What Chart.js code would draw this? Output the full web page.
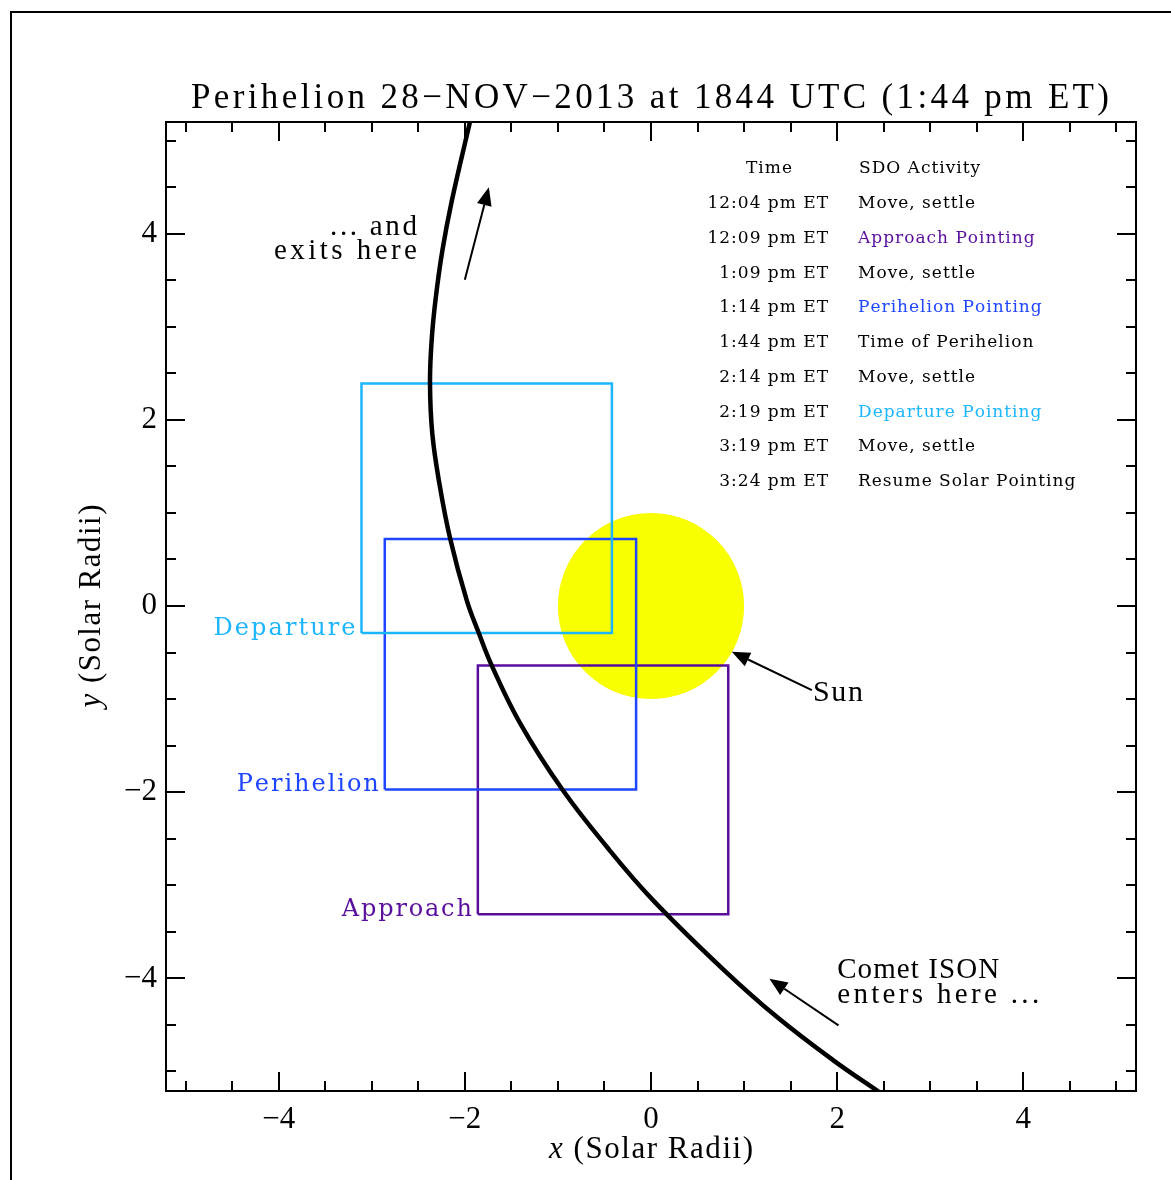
<!DOCTYPE html>
<html>
<head>
<meta charset="utf-8">
<title>Comet ISON perihelion – SDO pointing</title>
<script src="https://cdn.jsdelivr.net/npm/chart.js@4.4.1/dist/chart.umd.min.js"></script>
<style>
  html, body { margin: 0; padding: 0; background: #fff; }
  canvas { display: block; }
</style>
</head>
<body>
<canvas id="chart" width="1171" height="1180"></canvas>
<script>
// ---- data (solar radii, Sun-centred) ----
const titleText = 'Perihelion 28\u2212NOV\u22122013 at 1844 UTC (1:44 pm ET)';

// projected path of Comet ISON, from outbound (top) to inbound (bottom)
const pathX = [-1.945, -2.138, -2.240, -2.315, -2.356, -2.374, -2.350, -2.274, -2.159, -1.980, -1.850, -1.708, -1.407, -0.956, -0.473, 0.021, 0.784, 1.354, 1.955, 2.450];
const pathY = [ 5.200,  4.362,  3.825,  3.288,  2.858,  2.396,  1.859,  1.321,  0.731,  0.064, -0.290, -0.645, -1.257, -1.966, -2.589, -3.159, -3.911, -4.416, -4.878, -5.221];

const sunX = 0;
const sunY = 0;
const sunRadius = 1.0;

// SDO pointing fields of view
const boxNames = ['Departure', 'Perihelion', 'Approach'];
const boxX0 = [-3.11, -2.86, -1.86];
const boxX1 = [-0.42, -0.16,  0.83];
const boxY0 = [-0.29, -1.97, -3.31];
const boxY1 = [ 2.39,  0.72, -0.64];

const xTicks = [-4, -2, 0, 2, 4];
const xTickLabels = ['\u22124', '\u22122', '0', '2', '4'];
const yTicks = [-4, -2, 0, 2, 4];
const yTickLabels = ['\u22124', '\u22122', '0', '2', '4'];

const tableHeader = ['Time', 'SDO Activity'];
const tableTimes = ['12:04 pm ET', '12:09 pm ET', '1:09 pm ET', '1:14 pm ET', '1:44 pm ET',
                    '2:14 pm ET', '2:19 pm ET', '3:19 pm ET', '3:24 pm ET'];
const tableActivities = ['Move, settle', 'Approach Pointing', 'Move, settle', 'Perihelion Pointing',
                         'Time of Perihelion', 'Move, settle', 'Departure Pointing', 'Move, settle',
                         'Resume Solar Pointing'];

// ---- styles ----
const pointingColors = { Departure: '#1CB6FF', Perihelion: '#1E45FF', Approach: '#5A0E9E' };
const SERIF = '"Liberation Serif"';
const SLAB = '"DejaVu Serif"';

function colorForActivity(text) {
  for (const k of Object.keys(pointingColors)) {
    if (text.startsWith(k)) return pointingColors[k];
  }
  return '#000';
}

// draw a sequence of text runs character by character with even spacing;
// if width is given the spacing is chosen so the text spans that width
function drawSpaced(ctx, runs, x, y, align, width, spacingPx) {
  let natural = 0, n = 0;
  for (const r of runs) {
    ctx.font = r.font;
    for (const ch of r.text) { natural += ctx.measureText(ch).width; n++; }
  }
  const sp = (width != null && n > 1) ? (width - natural) / (n - 1) : (spacingPx || 0);
  const total = natural + sp * (n - 1);
  let cx = align === 'right' ? x - total : align === 'center' ? x - total / 2 : x;
  ctx.textAlign = 'left';
  ctx.textBaseline = 'alphabetic';
  for (const r of runs) {
    ctx.font = r.font;
    ctx.fillStyle = r.color || '#000';
    for (const ch of r.text) {
      ctx.fillText(ch, cx, y);
      cx += ctx.measureText(ch).width + sp;
    }
  }
}

function drawArrow(ctx, x0, y0, x1, y1) {
  const ang = Math.atan2(y1 - y0, x1 - x0);
  const headLen = 18, headHalf = 7.5;
  const bx = x1 - headLen * Math.cos(ang), by = y1 - headLen * Math.sin(ang);
  ctx.strokeStyle = '#000';
  ctx.lineWidth = 2;
  ctx.beginPath();
  ctx.moveTo(x0, y0);
  ctx.lineTo(bx, by);
  ctx.stroke();
  ctx.fillStyle = '#000';
  ctx.beginPath();
  ctx.moveTo(x1, y1);
  ctx.lineTo(bx + headHalf * Math.sin(ang), by - headHalf * Math.cos(ang));
  ctx.lineTo(bx - headHalf * Math.sin(ang), by + headHalf * Math.cos(ang));
  ctx.closePath();
  ctx.fill();
}

// frame, inward ticks, annotations, schedule table
const decorPlugin = {
  id: 'decor',
  afterDraw(chart) {
    const ctx = chart.ctx;
    const xs = chart.scales.x, ys = chart.scales.y;
    const a = chart.chartArea;
    const px = v => xs.getPixelForValue(v);
    const py = v => ys.getPixelForValue(v);
    ctx.save();

    // page border
    ctx.strokeStyle = '#000';
    ctx.lineWidth = 2;
    ctx.beginPath();
    ctx.moveTo(11, chart.height);
    ctx.lineTo(11, 12);
    ctx.lineTo(chart.width, 12);
    ctx.stroke();

    // plot frame
    ctx.lineWidth = 2;
    ctx.strokeRect(a.left, a.top, a.right - a.left, a.bottom - a.top);

    // ticks every 0.5, major every 2, pointing inward on all four sides
    ctx.lineWidth = 2;
    ctx.beginPath();
    for (let k = -10; k <= 10; k++) {
      const v = k / 2;
      const len = (k % 4 === 0) ? 19 : 10;
      const X = Math.round(px(v)), Y = Math.round(py(v));
      ctx.moveTo(X, a.bottom); ctx.lineTo(X, a.bottom - len);
      ctx.moveTo(X, a.top);    ctx.lineTo(X, a.top + len);
      ctx.moveTo(a.left, Y);   ctx.lineTo(a.left + len, Y);
      ctx.moveTo(a.right, Y);  ctx.lineTo(a.right - len, Y);
    }
    ctx.stroke();

    // title
    drawSpaced(ctx, [{ text: titleText, font: `35px ${SERIF}` }], 650, 108, 'center', 918);

    // axis titles
    drawSpaced(ctx, [
      { text: 'x', font: `italic 31px ${SERIF}` },
      { text: ' (Solar Radii)', font: `31px ${SERIF}` }
    ], (a.left + a.right) / 2, 1158, 'center', 204);
    ctx.save();
    ctx.translate(100, py(0));
    ctx.rotate(-Math.PI / 2);
    drawSpaced(ctx, [
      { text: 'y', font: `italic 31px ${SERIF}` },
      { text: ' (Solar Radii)', font: `31px ${SERIF}` }
    ], 0, 0, 'center', 203);
    ctx.restore();

    // pointing labels at the lower-left corner of each field
    boxNames.forEach((name, i) => {
      drawSpaced(ctx, [{ text: name, font: `24px ${SLAB}`, color: pointingColors[name] }],
        px(boxX0[i]) - 6, py(boxY0[i]) + 2, 'right', name === 'Approach' ? 130 : 142);
    });

    // annotations
    const annFont = `29px ${SERIF}`;
    drawSpaced(ctx, [{ text: '... and', font: annFont }], px(-2.514), py(3.986), 'right', 87);
    drawSpaced(ctx, [{ text: 'exits here', font: annFont }], px(-2.514), py(3.728), 'right', 143);
    drawSpaced(ctx, [{ text: 'Sun', font: `30px ${SERIF}` }], px(1.74), py(-1.017), 'left', 50);
    drawSpaced(ctx, [{ text: 'Comet ISON', font: annFont }], px(2.0), py(-4.0), 'left', 162);
    drawSpaced(ctx, [{ text: 'enters here ...', font: annFont }], px(2.0), py(-4.262), 'left', 202);

    drawArrow(ctx, px(1.728), py(-0.903), px(0.868), py(-0.491));
    drawArrow(ctx, px(2.014), py(-4.505), px(1.272), py(-4.003));
    drawArrow(ctx, px(-2.0), py(3.505), px(-1.742), py(4.498));

    // schedule table
    const tFont = `17px ${SLAB}`;
    const row0 = 173.3, rowStep = 34.75;
    drawSpaced(ctx, [{ text: tableHeader[0], font: tFont }], 769, row0, 'center', null, 1.0);
    drawSpaced(ctx, [{ text: tableHeader[1], font: tFont }], 859, row0, 'left', null, 1.0);
    tableTimes.forEach((t, i) => {
      const y = row0 + rowStep * (i + 1);
      drawSpaced(ctx, [{ text: t, font: tFont }], 828, y, 'right', null, 1.0);
      drawSpaced(ctx, [{ text: tableActivities[i], font: tFont, color: colorForActivity(tableActivities[i]) }],
        858, y, 'left', null, 1.0);
    });

    ctx.restore();
  }
};

const boxDatasets = boxNames.map((name, i) => ({
  label: name,
  data: [
    { x: boxX0[i], y: boxY0[i] }, { x: boxX1[i], y: boxY0[i] },
    { x: boxX1[i], y: boxY1[i] }, { x: boxX0[i], y: boxY1[i] },
    { x: boxX0[i], y: boxY0[i] }
  ],
  showLine: true,
  borderColor: pointingColors[name],
  borderWidth: 2.5,
  pointRadius: 0,
  tension: 0,
  order: 1
}));

const sunPixelRadius = (c) => {
  const s = c.chart.scales.x;
  return Math.abs(s.getPixelForValue(sunX + sunRadius) - s.getPixelForValue(sunX));
};

new Chart(document.getElementById('chart'), {
  type: 'scatter',
  data: {
    datasets: [
      {
        label: 'Comet ISON',
        data: pathX.map((x, i) => ({ x, y: pathY[i] })),
        showLine: true,
        borderColor: '#000',
        borderWidth: 4.5,
        pointRadius: 0,
        tension: 0.4,
        clip: 0,
        order: 0
      },
      ...boxDatasets,
      {
        label: 'Sun',
        data: [{ x: sunX, y: sunY }],
        backgroundColor: '#F8FF00',
        borderWidth: 0,
        pointRadius: sunPixelRadius,
        pointHoverRadius: sunPixelRadius,
        order: 2
      }
    ]
  },
  options: {
    responsive: false,
    animation: false,
    devicePixelRatio: 1,
    events: [],
    layout: { padding: { top: 122, right: 35, bottom: 0, left: 0 } },
    plugins: { legend: { display: false }, tooltip: { enabled: false }, title: { display: false } },
    scales: {
      x: {
        type: 'linear',
        min: -5.21,
        max: 5.21,
        afterBuildTicks: (s) => { s.ticks = xTicks.map(v => ({ value: v })); },
        afterFit: (s) => { s.height = 89; },
        grid: { display: false, drawTicks: false },
        border: { display: false },
        ticks: {
          autoSkip: false,
          maxRotation: 0,
          padding: 10,
          color: '#000',
          font: { family: SERIF, size: 31 },
          callback: (v, i) => xTickLabels[i]
        }
      },
      y: {
        type: 'linear',
        min: -5.21,
        max: 5.2,
        afterBuildTicks: (s) => { s.ticks = yTicks.map(v => ({ value: v })); },
        afterFit: (s) => { s.width = 166; },
        grid: { display: false, drawTicks: false },
        border: { display: false },
        ticks: {
          autoSkip: false,
          padding: 9,
          color: '#000',
          font: { family: SERIF, size: 31 },
          callback: (v, i) => yTickLabels[i]
        }
      }
    }
  },
  plugins: [decorPlugin]
});
</script>
</body>
</html>
